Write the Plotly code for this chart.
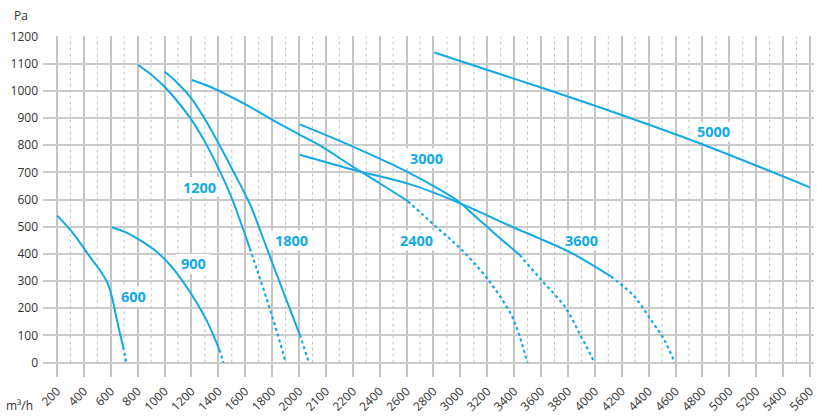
import numpy as np
import plotly.graph_objects as go

# Airflow tick labels (m³/h); the axis spaces them evenly, so it is not linear
flow_ticks = [200, 400, 600, 800, 1000, 1200, 1400, 1600, 1800, 2000, 2100, 2200,
              2400, 2600, 2800, 3000, 3200, 3400, 3600, 3800, 4000, 4200, 4400,
              4600, 4800, 5000, 5200, 5400, 5600]
pressure_ticks = list(range(0, 1300, 100))

# Fan curves: solid working range and dotted extension (m³/h, Pa)
fan_600_q = [202, 320, 444, 518, 568, 592, 614, 642, 692]
fan_600_p = [541, 476, 390, 341, 301, 271, 231, 165, 58]
fan_600_q_ext = [692, 716]
fan_600_p_ext = [58, 0]

fan_900_q = [606, 712, 814, 918, 1020, 1120, 1220, 1320, 1408]
fan_900_p = [498, 479, 452, 417, 371, 310, 236, 148, 47]
fan_900_q_ext = [1408, 1438]
fan_900_p_ext = [47, 0]

fan_1200_q = [802, 902, 1000, 1098, 1198, 1296, 1392, 1496, 1562, 1634]
fan_1200_p = [1096, 1059, 1015, 960, 895, 816, 724, 610, 522, 421]
fan_1200_q_ext = [1634, 1688, 1754, 1822, 1902]
fan_1200_p_ext = [421, 341, 243, 135, 0]

fan_1800_q = [1000, 1096, 1198, 1304, 1408, 1518, 1638, 1718, 1802, 1904, 2003]
fan_1800_p = [1071, 1029, 973, 893, 801, 698, 580, 477, 366, 234, 102]
fan_1800_q_ext = [2003, 2037]
fan_1800_p_ext = [102, 0]

fan_2400_q = [1202, 1334, 1606, 1802, 2000, 2074, 2210, 2400, 2610]
fan_2400_p = [1040, 1016, 949, 893, 840, 801, 718, 660, 594]
fan_2400_q_ext = [2610, 2812, 3010, 3208, 3378, 3440, 3498]
fan_2400_p_ext = [594, 503, 415, 304, 176, 98, 0]

fan_3000_q = [2003, 2173, 2602, 2792, 2986, 3096, 3208, 3318, 3442]
fan_3000_p = [877, 807, 703, 652, 593, 545, 496, 448, 396]
fan_3000_q_ext = [3442, 3602, 3776, 3898, 3998]
fan_3000_p_ext = [396, 304, 206, 96, 0]

fan_3600_q = [2003, 2210, 2640, 2986, 3380, 3578, 3824, 4120]
fan_3600_p = [765, 709, 654, 589, 501, 459, 404, 317]
fan_3600_q_ext = [4120, 4294, 4418, 4516, 4594]
fan_3600_p_ext = [317, 243, 157, 84, 0]

fan_5000_q = [2806, 3578, 4194, 4812, 5600]
fan_5000_p = [1141, 1016, 912, 801, 645]

# Curve names and where they are written (m³/h, Pa)
curve_names = ["600", "900", "1200", "1800", "2400", "3000", "3600", "5000"]
name_q = [770, 1214, 1260, 1946, 2670, 2746, 3898, 4880]
name_p = [243, 363, 646, 449, 449, 752, 449, 850]

BLUE = "#12aae6"
FONT = "Open Sans"

tick_pos = np.arange(len(flow_ticks))


def to_axis(q):
    """Map airflow values onto the evenly spaced tick positions."""
    return np.interp(q, flow_ticks, tick_pos)


fig = go.Figure()

# Dashed minor grid between major airflow ticks (above the main grid, below the curves)
for i in range(len(flow_ticks) - 1):
    fig.add_shape(type="line", xref="x", yref="y", x0=i + 0.5, x1=i + 0.5, y0=0, y1=1200,
                  layer="between", line=dict(color="#c4c4c4", width=1, dash="3px,3px"))

# White patches behind the curve names so the grid does not run through them
for name, q, p in zip(curve_names, name_q, name_p):
    half_w = len(name) * 4.6 + 3
    fig.add_shape(type="rect", xref="x", yref="y", layer="between",
                  xsizemode="pixel", ysizemode="pixel",
                  xanchor=float(to_axis(q)), yanchor=p,
                  x0=-half_w, x1=half_w, y0=-10, y1=10,
                  fillcolor="white", line=dict(width=0))

curves = [
    (fan_600_q, fan_600_p, fan_600_q_ext, fan_600_p_ext),
    (fan_900_q, fan_900_p, fan_900_q_ext, fan_900_p_ext),
    (fan_1200_q, fan_1200_p, fan_1200_q_ext, fan_1200_p_ext),
    (fan_1800_q, fan_1800_p, fan_1800_q_ext, fan_1800_p_ext),
    (fan_2400_q, fan_2400_p, fan_2400_q_ext, fan_2400_p_ext),
    (fan_3000_q, fan_3000_p, fan_3000_q_ext, fan_3000_p_ext),
    (fan_3600_q, fan_3600_p, fan_3600_q_ext, fan_3600_p_ext),
    (fan_5000_q, fan_5000_p, None, None),
]

for q, p, qe, pe in curves:
    fig.add_trace(go.Scatter(x=to_axis(q), y=p, mode="lines",
                             line=dict(color=BLUE, width=2, shape="spline", smoothing=1.0),
                             hoverinfo="skip", showlegend=False))
    if qe is not None:
        fig.add_trace(go.Scatter(x=to_axis(qe), y=pe, mode="lines",
                                 line=dict(color=BLUE, width=2.2, dash="dot",
                                           shape="spline", smoothing=1.0),
                                 hoverinfo="skip", showlegend=False))

for name, q, p in zip(curve_names, name_q, name_p):
    fig.add_annotation(x=float(to_axis(q)), y=p, text=name, showarrow=False,
                       font=dict(family=FONT, size=14.5, color=BLUE, weight="bold"))

fig.add_annotation(xref="paper", yref="paper", x=-0.0168, y=1.0, yshift=21,
                   text="Pa", showarrow=False, xanchor="right", yanchor="middle",
                   font=dict(family=FONT, size=12, color="#333"))
fig.add_annotation(xref="paper", yref="paper", x=-0.0103, y=0, yshift=-28,
                   text="m³/h", showarrow=False, xanchor="right", yanchor="middle",
                   font=dict(family=FONT, size=12, color="#333"))

fig.update_layout(
    width=817, height=418,
    margin=dict(l=43, r=0, t=36, b=41),
    plot_bgcolor="white", paper_bgcolor="white",
    font=dict(family=FONT, size=12, color="#333"),
    xaxis=dict(
        range=[-0.52, 28.15],
        tickmode="array", tickvals=list(tick_pos), ticktext=[str(v) for v in flow_ticks],
        tickangle=-45, ticks="", ticklabelstandoff=4, ticklabeloverflow="allow",
        showgrid=True, gridcolor="#c4c4c4", gridwidth=1.5,
        zeroline=False, showline=False,
        tickfont=dict(family=FONT, size=12, color="#333"),
    ),
    yaxis=dict(
        range=[-53, 1202],
        tickmode="array", tickvals=pressure_ticks,
        ticks="", ticklabelstandoff=4,
        showgrid=True, gridcolor="#cbcbcb", gridwidth=2,
        zeroline=False, showline=False,
        tickfont=dict(family=FONT, size=12, color="#333"),
    ),
)

fig.write_html("out.html")
